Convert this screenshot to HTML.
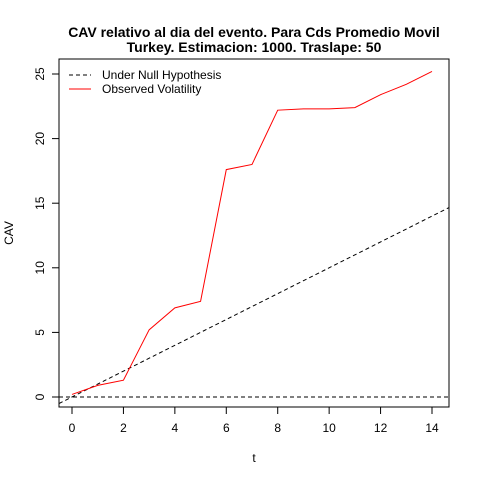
<!DOCTYPE html>
<html><head><meta charset="utf-8"><style>
body{margin:0;background:#fff}
text{font-family:"Liberation Sans",Arial,sans-serif}
</style></head><body>
<svg id="chart" width="480" height="480" xmlns="http://www.w3.org/2000/svg">
<rect width="480" height="480" fill="#fff"/>
<text x="254" y="37" text-anchor="middle" font-size="14" font-weight="bold">CAV relativo al dia del evento. Para Cds Promedio Movil</text>
<text x="254" y="52" text-anchor="middle" font-size="14" font-weight="bold">Turkey. Estimacion: 1000. Traslape: 50</text>
<rect x="59" y="59" width="390" height="348" fill="none" stroke="#000"/>
<g id="xaxis"></g>
<g id="yaxis"></g>
<g id="series"></g>
<text x="254" y="462" text-anchor="middle" font-size="12">t</text>
<text transform="translate(13,233) rotate(-90)" text-anchor="middle" font-size="12">CAV</text>
<g>
<line x1="69" y1="75" x2="91" y2="75" stroke="#000" stroke-dasharray="4,3"/>
<text x="102" y="79" font-size="12">Under Null Hypothesis</text>
<line x1="69" y1="89" x2="91" y2="89" stroke="#f00"/>
<text x="102" y="93" font-size="12">Observed Volatility</text>
</g>
</svg>
<script>
const tValues=[0,1,2,3,4,5,6,7,8,9,10,11,12,13,14];
const observed=[0.2,0.9,1.3,5.2,6.9,7.4,17.6,18.0,22.2,22.3,22.3,22.4,23.4,24.2,25.2];
const xTicks=[0,2,4,6,8,10,12,14];
const yTicks=[0,5,10,15,20,25];
const NS="http://www.w3.org/2000/svg";
const xs=t=>72+t*(360/14);
const ys=v=>397-v*(323/25);
function mk(tag,attrs,parent){const e=document.createElementNS(NS,tag);for(const k in attrs)e.setAttribute(k,attrs[k]);parent.appendChild(e);return e;}
const xa=document.getElementById('xaxis'),ya=document.getElementById('yaxis'),sg=document.getElementById('series');
mk('line',{x1:xs(xTicks[0]),y1:407,x2:xs(xTicks[xTicks.length-1]),y2:407,stroke:'#000'},xa);
xTicks.forEach(t=>{
 const l=mk('line',{x1:xs(t),y1:407,x2:xs(t),y2:414,stroke:'#000'},xa);
 
 
 const tx=mk('text',{x:xs(t),y:432,'text-anchor':'middle','font-size':12},xa);tx.textContent=t;
 
 
});
mk('line',{x1:59,y1:ys(yTicks[0]),x2:59,y2:ys(yTicks[yTicks.length-1]),stroke:'#000'},ya);
yTicks.forEach(v=>{
 const l=mk('line',{x1:52,y1:ys(v),x2:59,y2:ys(v),stroke:'#000'},ya);
 
 
 const tx=mk('text',{transform:`translate(44,${ys(v)}) rotate(-90)`,'text-anchor':'middle','font-size':12},ya);tx.textContent=v;
 
 
});
// null hypothesis lines (y = t and y = 0), clipped to plot area
const tMin=(59-72)/(360/14), tMax=(449-72)/(360/14);
const h=mk('line',{x1:59,y1:ys(0),x2:449,y2:ys(0),stroke:'#000','stroke-dasharray':'4,3'},sg);


const d=mk('line',{x1:59,y1:ys(tMin),x2:449,y2:ys(tMax),stroke:'#000','stroke-dasharray':'4,3'},sg);


const p=mk('polyline',{points:tValues.map((t,i)=>xs(t)+','+ys(observed[i])).join(' '),fill:'none',stroke:'#f00'},sg);


</script>
</body></html>
